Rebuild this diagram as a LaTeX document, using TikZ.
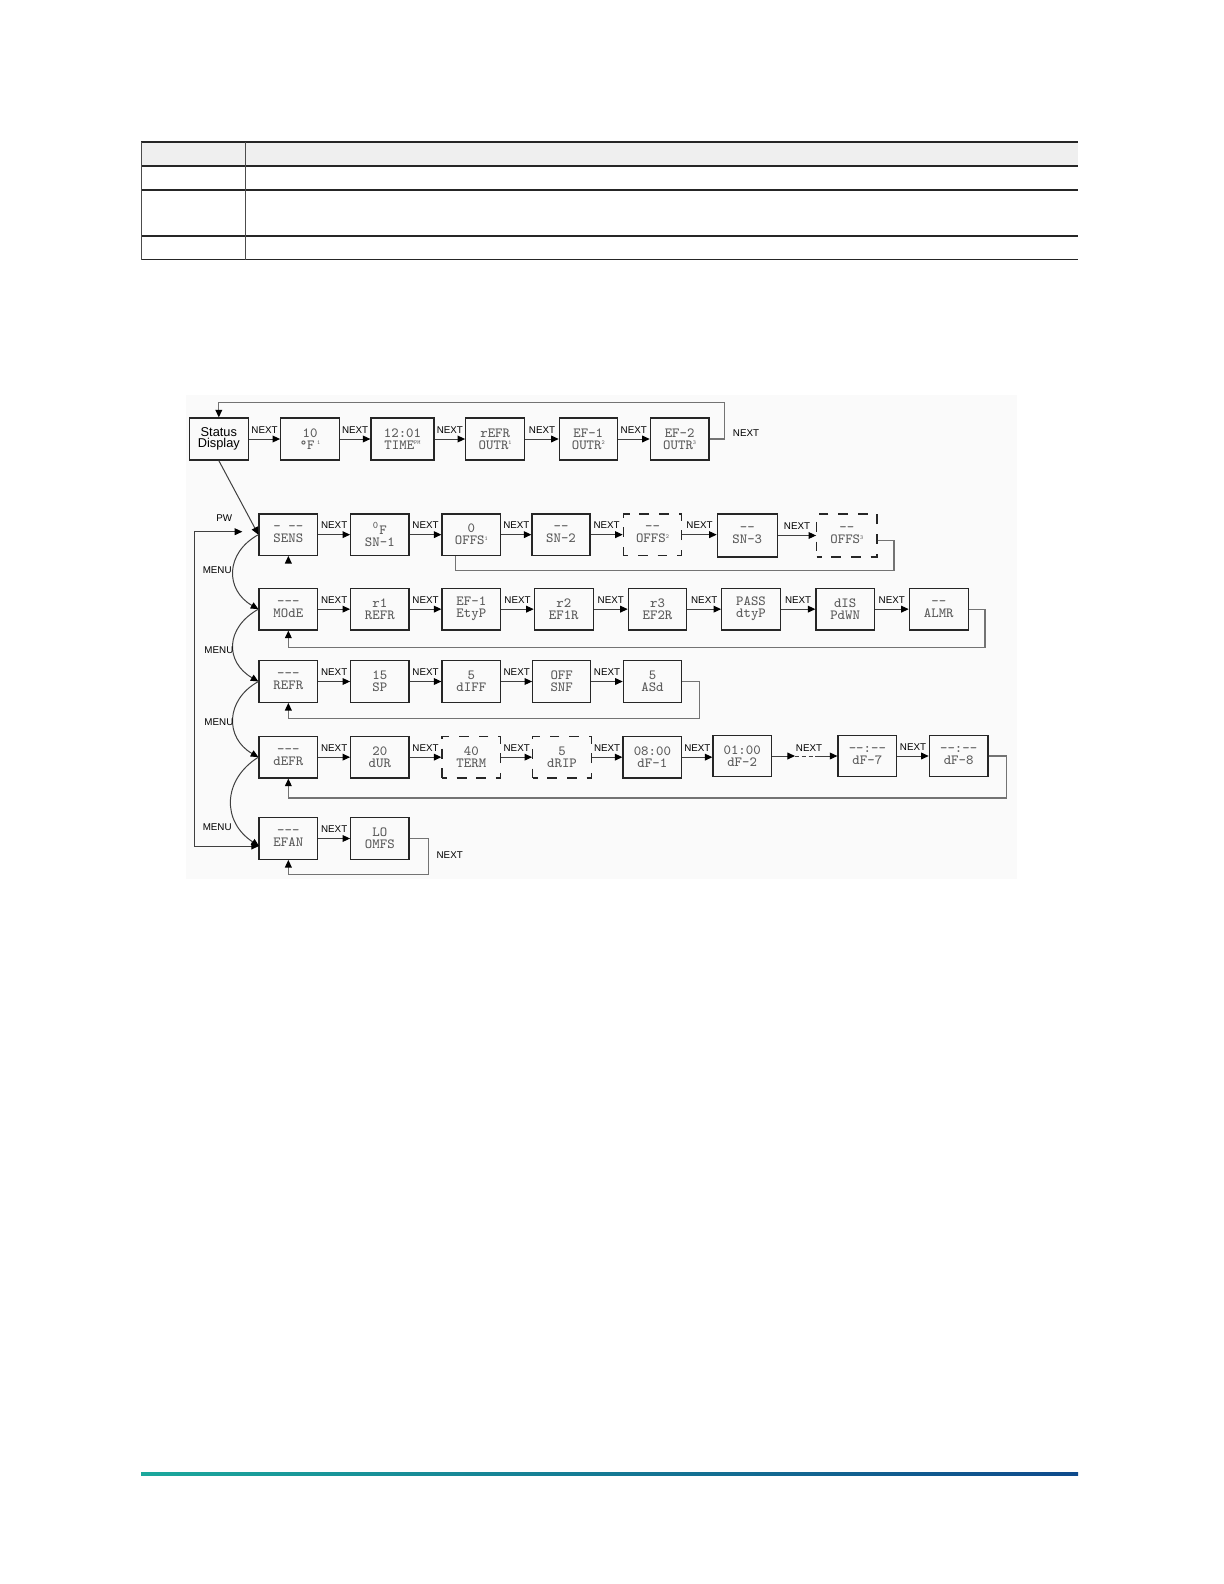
\documentclass[tikz,border=0pt]{standalone}
\usepackage{fontspec}
\usetikzlibrary{arrows.meta}
\newfontfamily\lsans{Liberation Sans}
\definecolor{boxtext}{HTML}{5A5A5A}
\definecolor{hdrfill}{HTML}{EFEFEF}
\definecolor{footA}{HTML}{1BA89C}
\definecolor{footB}{HTML}{0E4A8C}
\newcommand\tsup[1]{\raisebox{2.4pt}{\fontsize{3}{3}\selectfont #1}}
\newcommand\mkbox[7]{\node[#1, minimum width={(#5-#3)*0.5pt}, minimum height={(#6-#4)*0.5pt}] (#2) at ({(#3+#5)/2},{(#4+#6)/2}) {#7};}
\newcommand\nextarrow[2]{\draw[conn] (#1.east) -- (#1.east -| #2.west) node[nx,midway]{NEXT};}
\begin{document}
\begin{tikzpicture}[x=0.5pt,y=-0.5pt,
  box/.style={draw=black!85, line width=0.6pt, inner sep=0pt, align=center, text=boxtext, font=\ttfamily\fontsize{7}{6}\selectfont},
  dbox/.style={box, dash pattern=on 4.9pt off 4.9pt, dash phase=2.45pt},
  sbox/.style={box, text=black, font=\lsans\fontsize{6.4}{5.8}\selectfont},
  tip/.style={-{Triangle[length=3.8pt,width=3.4pt,black]}},
  conn/.style={draw=black!75, line width=0.5pt, tip},
  fb/.style={draw=black!55, line width=0.55pt},
  fba/.style={fb, tip},
  lab/.style={font=\lsans\fontsize{4.9}{5}\selectfont, inner sep=0pt},
  nx/.style={lab, above, yshift=2.6pt}]
\useasboundingbox (0,0) rectangle (1224,1584);
\fill[white] (0,0) rectangle (1224,1584);
% table
\fill[hdrfill] (141,142.4) rectangle (1078,165.6);
\foreach \yy in {142.4,165.6,189.9,236.3,259.5}
  \draw[black!85, line width=0.9pt] (141,\yy) -- (1078,\yy);
\draw[black!70, line width=0.5pt] (141,142.4) -- (141,259.5);
\draw[black!70, line width=0.5pt] (245.4,142.4) -- (245.4,259.5);
% footer
\shade[left color=footA, right color=footB] (141,1472.9) rectangle (1078,1475.9);
% diagram background
\fill[black!2] (186,395) rectangle (1017,879);
% top row
\mkbox{sbox}{ST}{189.3}{418}{248.3}{460}{Status\\Display}
\mkbox{box}{T1}{280.7}{418}{339.3}{460}{10\\°F\,\tsup{1}}
\mkbox{box}{T2}{371}{418}{434}{460}{12:01\\TIME\tsup{PM}}
\mkbox{box}{T3}{465.7}{418}{524.7}{460}{rEFR\\OUTR\tsup{1}}
\mkbox{box}{T4}{559.3}{418}{617.3}{460}{EF-1\\OUTR\tsup{2}}
\mkbox{box}{T5}{650.3}{418}{709}{460}{EF-2\\OUTR\tsup{3}}
% row 1
\mkbox{box}{SENS}{259}{514}{317.7}{555.3}{-\ -{}-\\SENS}
\mkbox{box}{SN1}{350.7}{514}{409}{555.3}{\textsuperscript{0}F\\SN-1}
\mkbox{box}{OFFS1}{442}{514}{500.7}{555.3}{0\\OFFS\tsup{1}}
\mkbox{box}{SN2}{532}{514}{590}{555.3}{-{}-\\SN-2}
\mkbox{dbox}{OFFS2}{623.3}{514}{681.7}{555.3}{-{}-\\OFFS\tsup{2}}
\mkbox{box}{SN3}{717.3}{514}{777.3}{557}{-{}-\\SN-3}
\mkbox{dbox}{OFFS3}{816.7}{514}{877}{557}{-{}-\\OFFS\tsup{3}}
% row 2
\mkbox{box}{MOdE}{259}{588.3}{317.7}{630}{-{}-{}-\\MOdE}
\mkbox{box}{REFRa}{350.7}{588.3}{409}{630}{r1\\REFR}
\mkbox{box}{EtyP}{442}{588.3}{500.7}{630}{EF-1\\EtyP}
\mkbox{box}{EFoneR}{534.3}{588.3}{593.3}{630}{r2\\EF1R}
\mkbox{box}{EFtwoR}{628.3}{588.3}{686.7}{630}{r3\\EF2R}
\mkbox{box}{dtyP}{721.7}{588.3}{780.3}{630}{PASS\\dtyP}
\mkbox{box}{PdWN}{816}{588.3}{874.3}{630}{dIS\\PdWN}
\mkbox{box}{ALMR}{909.3}{588.3}{968.3}{630}{-{}-\\ALMR}
% row 3
\mkbox{box}{REFR}{259}{660.7}{317.7}{702.3}{-{}-{}-\\REFR}
\mkbox{box}{SP}{350.7}{660.7}{409}{702.3}{15\\SP}
\mkbox{box}{dIFF}{442}{660.7}{500.7}{702.3}{5\\dIFF}
\mkbox{box}{SNF}{532.7}{660.7}{590.7}{702.3}{OFF\\SNF}
\mkbox{box}{ASd}{623.3}{660.7}{681.7}{702.3}{5\\ASd}
% row 4
\mkbox{box}{dEFR}{259}{736.3}{317.7}{778}{-{}-{}-\\dEFR}
\mkbox{box}{dUR}{350.7}{736.3}{409}{778}{20\\dUR}
\mkbox{dbox}{TERM}{442}{736.3}{500.7}{778}{40\\TERM}
\mkbox{dbox}{dRIP}{532.7}{736.3}{591.3}{778}{5\\dRIP}
\mkbox{box}{dFa}{623}{736.3}{681.7}{778}{08:00\\dF-1}
\mkbox{box}{dFb}{713}{735.3}{771.3}{776.7}{01:00\\dF-2}
\mkbox{box}{dFg}{838}{735.3}{896.7}{776.7}{-{}-:-{}-\\dF-7}
\mkbox{box}{dFh}{929.3}{735.3}{988}{776.7}{-{}-:-{}-\\dF-8}
% row 5
\mkbox{box}{EFAN}{259}{817.7}{317.7}{859.3}{-{}-{}-\\EFAN}
\mkbox{box}{OMFS}{350.7}{817.7}{409}{859.3}{LO\\OMFS}
% NEXT arrows
\nextarrow{ST}{T1}\nextarrow{T1}{T2}\nextarrow{T2}{T3}\nextarrow{T3}{T4}\nextarrow{T4}{T5}
\nextarrow{SENS}{SN1}\nextarrow{SN1}{OFFS1}\nextarrow{OFFS1}{SN2}\nextarrow{SN2}{OFFS2}\nextarrow{OFFS2}{SN3}\nextarrow{SN3}{OFFS3}
\nextarrow{MOdE}{REFRa}\nextarrow{REFRa}{EtyP}\nextarrow{EtyP}{EFoneR}\nextarrow{EFoneR}{EFtwoR}\nextarrow{EFtwoR}{dtyP}\nextarrow{dtyP}{PdWN}\nextarrow{PdWN}{ALMR}
\nextarrow{REFR}{SP}\nextarrow{SP}{dIFF}\nextarrow{dIFF}{SNF}\nextarrow{SNF}{ASd}
\nextarrow{dEFR}{dUR}\nextarrow{dUR}{TERM}\nextarrow{TERM}{dRIP}\nextarrow{dRIP}{dFa}\nextarrow{dFa}{dFb}
\nextarrow{dFg}{dFh}
\nextarrow{EFAN}{OMFS}
% dF-2 to dF-7
\coordinate (dA) at (795,756);
\coordinate (dB) at (816.7,756);
\draw[conn] (dFb.east) -- (dA);
\draw[draw=black!75, line width=0.5pt, dash pattern=on 2.2pt off 1.2pt] (dA) -- (dB);
\draw[conn] (dB) -- (dB -| dFg.west);
\node[lab] at (809,748.3) {NEXT};
% feedback loops
\coordinate (f0) at (724.7,402.7);
\draw[fba] (T5.east) -| (f0) -| (ST.north);
\node[lab] at (746,433) {NEXT};
\coordinate (f1) at (894,570.7);
\coordinate (f1b) at (455.3,570.7);
\draw[fb] ([yshift=-2.6pt]OFFS3.east) -| (f1) -- (f1b) -- (f1b |- OFFS1.south);
\coordinate (sa) at (288.35,563);
\draw[fba] (sa) -- (SENS.south);
\coordinate (f2) at (985,647.3);
\draw[fba] (ALMR.east) -| (f2) -| (MOdE.south);
\coordinate (f3) at (699.3,718.3);
\draw[fba] (ASd.east) -| (f3) -| (REFR.south);
\coordinate (f4) at (1006.3,798);
\draw[fba] (dFh.east) -| (f4) -| (dEFR.south);
\coordinate (f5) at (428.7,874.3);
\draw[fba] (OMFS.east) -| (f5) -| (EFAN.south);
\node[lab] at (449.7,855) {NEXT};
% status to SENS
\draw[conn] (ST.south) -- (SENS.west);
% MENU curves
\coordinate (efanin) at (259,846);
\draw[conn] (SENS.west) .. controls (225,553) and (225,590) .. (MOdE.west);
\draw[conn] (MOdE.west) .. controls (225,628) and (225,662) .. (REFR.west);
\draw[conn] (REFR.west) .. controls (225,700) and (225,738) .. (dEFR.west);
\draw[conn] (dEFR.west) .. controls (222,780) and (222,822) .. (efanin);
\node[lab] at (217.2,570) {MENU};
\node[lab] at (218.9,650) {MENU};
\node[lab] at (218.9,722.3) {MENU};
\node[lab] at (217.2,827.3) {MENU};
% PW loop
\coordinate (pwtip) at (242.3,531.7);
\coordinate (pwtop) at (194.3,531.7);
\coordinate (pwbot) at (194.3,846);
\draw[conn, {Triangle[length=3.8pt,width=3.4pt,black]}-{Triangle[length=3.8pt,width=3.4pt,black]}] (pwtip) -- (pwtop) -- (pwbot) -- (efanin);
\node[lab] at (224.3,517.7) {PW};
\end{tikzpicture}
\end{document}
